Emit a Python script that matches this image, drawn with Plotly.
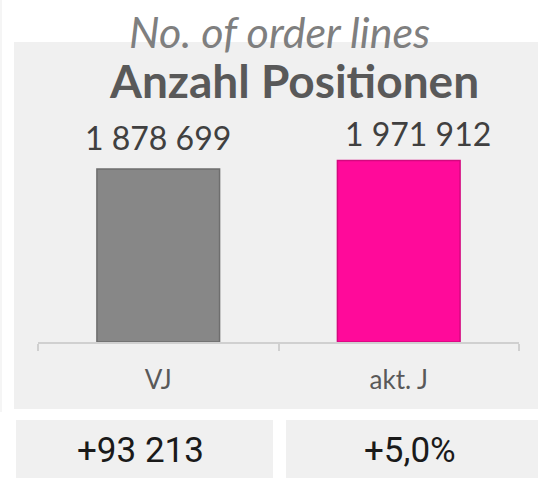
import plotly.graph_objects as go

categories = ["VJ", "akt. J"]
values = [1878699, 1971912]
value_labels = ["1 878 699", "1 971 912"]
bar_colors = ["#878787", "#FF0A9A"]
bar_line_colors = ["#6E6E6E", "#D4087F"]
label_xshift = [0, 19]
label_yshift = [10, 5]
diff_abs = "+93 213"
diff_pct = "+5,0%"
title_en = "No. of order lines"
title_de = "Anzahl Positionen"

W, H = 538, 478
def px(x):
    return x / W
def py(y):
    return 1 - y / H

fig = go.Figure()
fig.add_trace(go.Bar(
    x=categories, y=values, width=0.51,
    marker=dict(color=bar_colors, line=dict(color=bar_line_colors, width=1.5)),
    hoverinfo="skip",
))

annotations = []
for c, v, t, xs, ys in zip(categories, values, value_labels, label_xshift, label_yshift):
    annotations.append(dict(x=c, y=v, xref="x", yref="y", text=t, showarrow=False,
                            xanchor="center", yanchor="bottom", yshift=ys, xshift=xs,
                            font=dict(family="Lato", size=32, color="#404040")))

annotations += [
    dict(x=px(279), y=py(32), xref="paper", yref="paper", text="<i>" + title_en + "</i>",
         xanchor="center", yanchor="middle",
         showarrow=False, font=dict(family="Lato", size=43, color="#7F7F7F")),
    dict(x=px(294), y=py(80), xref="paper", yref="paper", text="<b>" + title_de + "</b>",
         xanchor="center", yanchor="middle",
         showarrow=False, font=dict(family="Lato", size=46, color="#595959")),
    dict(x=px(140), y=py(450), xref="paper", yref="paper", text=diff_abs,
         xanchor="center", yanchor="middle",
         showarrow=False, font=dict(family="Roboto", size=35, color="#1A1A1A")),
    dict(x=px(410), y=py(450), xref="paper", yref="paper", text=diff_pct,
         xanchor="center", yanchor="middle",
         showarrow=False, font=dict(family="Roboto", size=35, color="#1A1A1A")),
]

shapes = [
    dict(type="rect", xref="paper", yref="paper", x0=px(14), x1=px(538), y0=py(409), y1=py(42),
         fillcolor="#F0F0F0", line=dict(width=0), layer="below"),
    dict(type="rect", xref="paper", yref="paper", x0=px(16), x1=px(273), y0=py(478), y1=py(420),
         fillcolor="#F0F0F0", line=dict(width=0), layer="below"),
    dict(type="rect", xref="paper", yref="paper", x0=px(286), x1=px(538), y0=py(478), y1=py(420),
         fillcolor="#F0F0F0", line=dict(width=0), layer="below"),
    dict(type="line", xref="paper", yref="paper", x0=px(1), x1=px(1), y0=py(412), y1=py(0),
         line=dict(color="#F2F2F2", width=1.5), layer="below"),
]

fig.update_layout(
    width=W, height=H,
    margin=dict(l=0, r=0, t=0, b=0),
    paper_bgcolor="white", plot_bgcolor="rgba(0,0,0,0)",
    showlegend=False,
    xaxis=dict(domain=[px(38), px(519)], range=[-0.5, 1.5], showgrid=False,
               showline=True, linecolor="#D0D0D0", linewidth=1.5,
               ticks="outside", ticklen=7, tickcolor="#D0D0D0", tickwidth=1.5,
               tickson="boundaries",
               tickfont=dict(family="Lato", size=26, color="#595959"), ticklabelstandoff=14,
               fixedrange=True),
    yaxis=dict(domain=[py(342), py(100)], range=[0, 2628000], visible=False, fixedrange=True),
    annotations=annotations, shapes=shapes,
)

fig.write_html("out.html", config={"displayModeBar": False},
               post_script="document.body.style.margin='0';document.body.style.overflow='hidden';")
